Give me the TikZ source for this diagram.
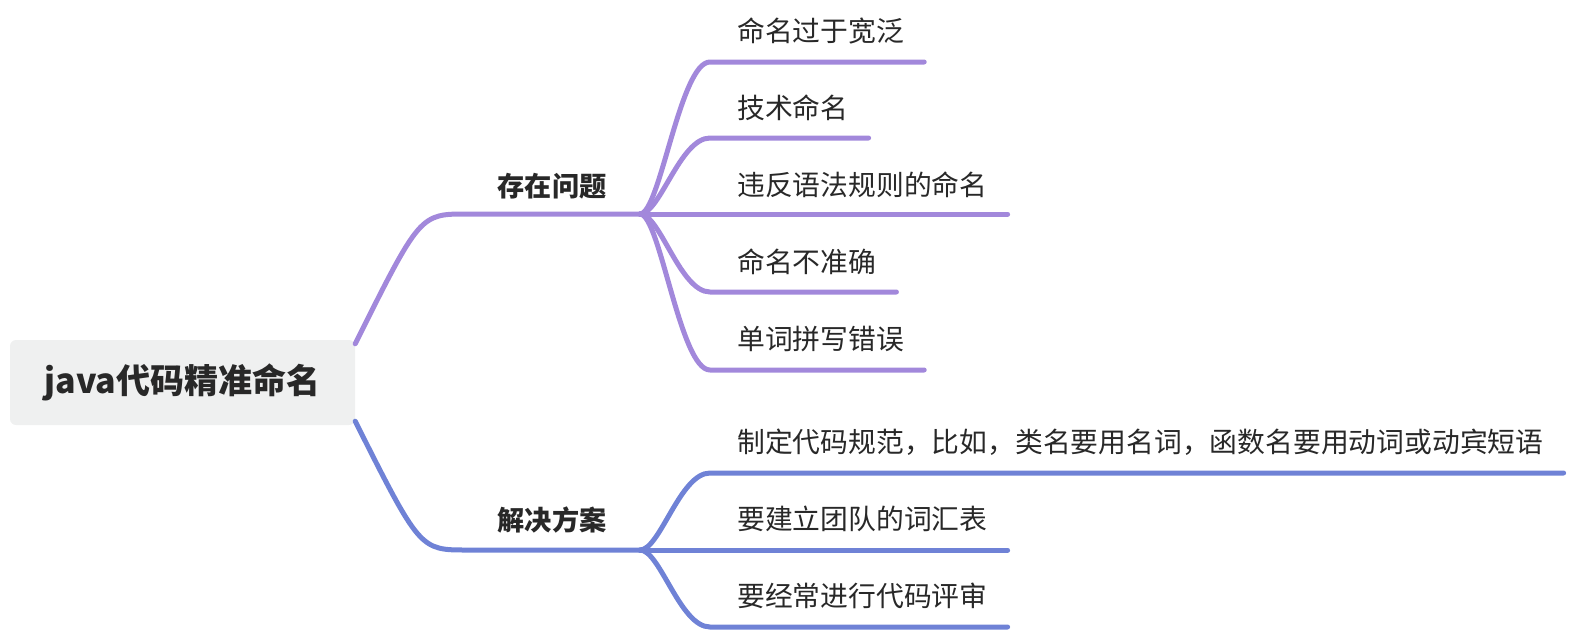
\documentclass[tikz,border=0pt]{standalone}
\usepackage{fontspec}
\setmainfont{Noto Sans CJK SC}
\usetikzlibrary{calc}
\definecolor{purp}{RGB}{162,136,219}
\definecolor{blu}{RGB}{111,130,214}
\definecolor{rootfill}{RGB}{239,240,240}
\definecolor{txt}{RGB}{40,40,40}
\begin{document}
\begin{tikzpicture}[x=1pt,y=-1pt,
  rootbox/.style={fill=rootfill,rounded corners=6pt,minimum width=345pt,minimum height=85pt,inner sep=0pt,
    text=txt,font=\fontsize{34pt}{40pt}\selectfont\bfseries},
  lbl/.style={text=txt,inner sep=0pt,font=\fontsize{27.2pt}{32pt}\selectfont\bfseries},
  leaf/.style={text=txt,inner sep=0pt,anchor=west,font=\fontsize{27.8pt}{33pt}\selectfont},
  pl/.style={draw=purp,line width=5pt,line cap=round},
  bl/.style={draw=blu,line width=5pt,line cap=round}]
\useasboundingbox (0,0) rectangle (1570,632);
% root
\node[rootbox] (root) at (182.5,382.5) {java代码精准命名};
% level-1 labels
\node[lbl] (p) at (552,186) {存在问题};
\node[lbl] (b) at (552,520) {解决方案};
\coordinate (pS) at (467,214);
\coordinate (pJ) at (640,214);
\coordinate (bS) at (467,550);
\coordinate (bJ) at (640,550);
\draw[pl] ($(root.north east)+(0,4)$) .. controls (420,214) .. (pS) -- (pJ);
\draw[bl] ($(root.south east)+(0,-4)$) .. controls (420,550) .. (bS) -- (bJ);
% purple leaves
\node[leaf] (a1) at (737,31) {命名过于宽泛};
\node[leaf] (a2) at (737,108) {技术命名};
\node[leaf] (a3) at (737,185) {违反语法规则的命名};
\node[leaf] (a4) at (737,262) {命名不准确};
\node[leaf] (a5) at (737,339) {单词拼写错误};
\coordinate (a1s) at (710,62);
\coordinate (a2s) at (710,138);
\coordinate (a4s) at (710,292);
\coordinate (a5s) at (710,370);
\draw[pl] (pJ) .. controls (660,214) and (680,62) .. (a1s) -- ([xshift=20pt]a1.east |- a1s);
\draw[pl] (pJ) .. controls (660,214) and (680,138) .. (a2s) -- ([xshift=20pt]a2.east |- a2s);
\draw[pl] (pJ) -- ([xshift=20pt]a3.east |- pJ);
\draw[pl] (pJ) .. controls (660,214) and (680,292) .. (a4s) -- ([xshift=20pt]a4.east |- a4s);
\draw[pl] (pJ) .. controls (660,214) and (680,370) .. (a5s) -- ([xshift=20pt]a5.east |- a5s);
% blue leaves
\node[leaf] (c1) at (737,442) {制定代码规范，比如，类名要用名词，函数名要用动词或动宾短语};
\node[leaf] (c2) at (737,519) {要建立团队的词汇表};
\node[leaf] (c3) at (737,596) {要经常进行代码评审};
\coordinate (c1s) at (710,473);
\coordinate (c3s) at (710,627);
\draw[bl] (bJ) .. controls (660,550) and (680,473) .. (c1s) -- ([xshift=20pt]c1.east |- c1s);
\draw[bl] (bJ) -- ([xshift=20pt]c2.east |- bJ);
\draw[bl] (bJ) .. controls (660,550) and (680,627) .. (c3s) -- ([xshift=20pt]c3.east |- c3s);
\end{tikzpicture}
\end{document}
